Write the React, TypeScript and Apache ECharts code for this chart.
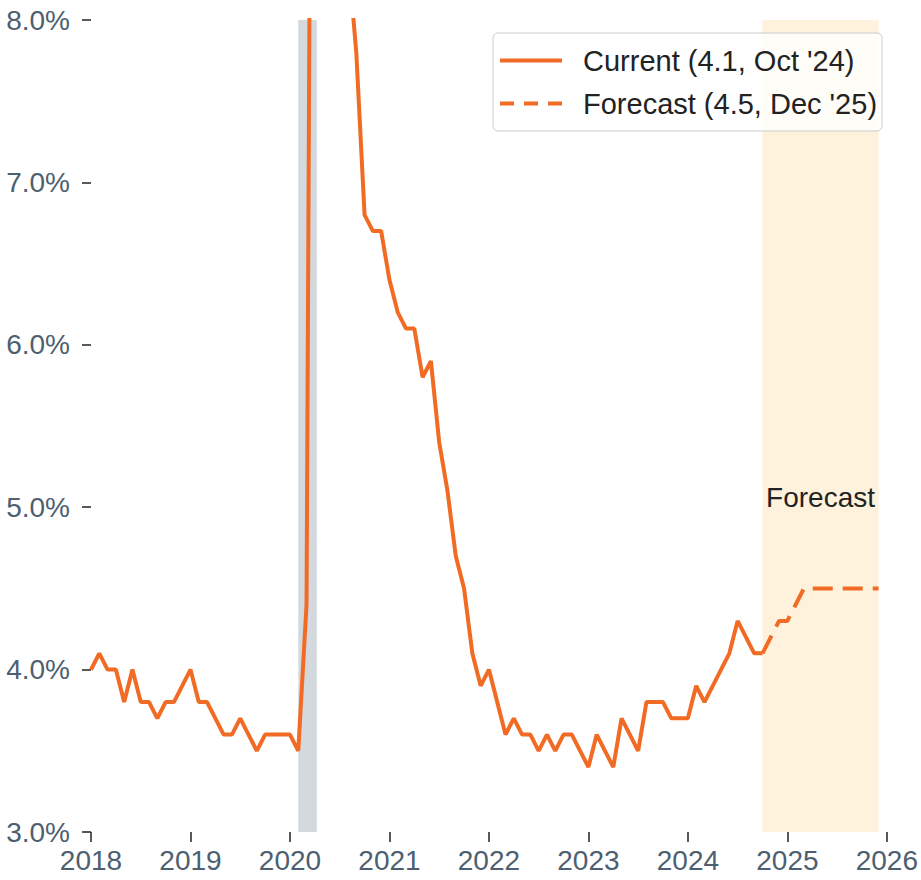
import React, { useEffect, useRef } from "react";
import * as echarts from "echarts";

// ---- data ----
const actualStart = "2018-01";
const actualRates = [
  // 2018
  4.0, 4.1, 4.0, 4.0, 3.8, 4.0, 3.8, 3.8, 3.7, 3.8, 3.8, 3.9,
  // 2019
  4.0, 3.8, 3.8, 3.7, 3.6, 3.6, 3.7, 3.6, 3.5, 3.6, 3.6, 3.6,
  // 2020
  3.6, 3.5, 4.4, 14.8, 13.2, 11.0, 10.2, 8.4, 7.8, 6.8, 6.7, 6.7,
  // 2021
  6.4, 6.2, 6.1, 6.1, 5.8, 5.9, 5.4, 5.1, 4.7, 4.5, 4.1, 3.9,
  // 2022
  4.0, 3.8, 3.6, 3.7, 3.6, 3.6, 3.5, 3.6, 3.5, 3.6, 3.6, 3.5,
  // 2023
  3.4, 3.6, 3.5, 3.4, 3.7, 3.6, 3.5, 3.8, 3.8, 3.8, 3.7, 3.7,
  // 2024
  3.7, 3.9, 3.8, 3.9, 4.0, 4.1, 4.3, 4.2, 4.1, 4.1,
];
const forecastStart = "2024-10";
const forecastRates = [4.1, 4.2, 4.3, 4.3, 4.4, 4.5, 4.5, 4.5, 4.5, 4.5, 4.5, 4.5, 4.5, 4.5, 4.5];
const recessionPeriod = ["2020-02", "2020-04"];
const currentLabel = "Current (4.1, Oct '24)";
const forecastLabel = "Forecast (4.5, Dec '25)";
const forecastText = "Forecast";
const forecastTextLevel = 5.0;
const xRange = [2018, 2026];
const yRange = [3, 8];

// ---- helpers ----
const monthToX = (ym: string) => {
  const [y, m] = ym.split("-").map(Number);
  return y + (m - 1) / 12;
};
const toSeries = (start: string, vals: number[]) => {
  const x0 = monthToX(start);
  return vals.map((v, i) => [x0 + i / 12, v]);
};

const ORANGE = "#f26b24";
const FONT = "'Liberation Sans', Arial, sans-serif";
const TICK_LABEL = "#4d5f70";
const SOLID_ICON = "path://M0,0H62V4H0Z";
const DASH_ICON = "path://M0,0H14V4H0Z M24,0H38V4H24Z M48,0H62V4H48Z";

export default function App() {
  const ref = useRef<HTMLDivElement>(null);
  useEffect(() => {
    document.body.style.margin = "0";
    if (!ref.current) return;
    const chart = echarts.init(ref.current, null, { renderer: "svg" });
    const actual = toSeries(actualStart, actualRates);
    const forecast = toSeries(forecastStart, forecastRates);
    const fStart = forecast[0][0];
    const fEnd = forecast[forecast.length - 1][0];
    chart.setOption({
      animation: false,
      textStyle: { fontFamily: FONT },
      grid: { left: 91, right: 31, top: 20, bottom: 48 },
      xAxis: {
        type: "value",
        min: xRange[0],
        max: xRange[1],
        interval: 1,
        axisLine: { show: false },
        splitLine: { show: false },
        axisTick: { show: true, length: 10, lineStyle: { color: "#222", width: 1.5 } },
        axisLabel: {
          color: TICK_LABEL,
          fontSize: 28,
          fontFamily: FONT,
          margin: 14,
          formatter: (v: number) => String(v),
        },
      },
      yAxis: {
        type: "value",
        min: yRange[0],
        max: yRange[1],
        interval: 1,
        axisLine: { show: false },
        splitLine: { show: false },
        axisTick: { show: true, length: 9, lineStyle: { color: "#222", width: 1.5 } },
        axisLabel: {
          color: TICK_LABEL,
          fontSize: 28,
          fontFamily: FONT,
          margin: 21,
          formatter: (v: number) => v.toFixed(1) + "%",
        },
      },
      legend: {
        data: [
          { name: currentLabel, icon: SOLID_ICON },
          { name: forecastLabel, icon: DASH_ICON },
        ],
        orient: "vertical",
        left: 493,
        top: 33,
        padding: [13, 5, 13, 7],
        itemWidth: 62,
        itemHeight: 4,
        itemGap: 14,
        symbolKeepAspect: false,
        backgroundColor: "rgba(255,255,255,0.8)",
        borderColor: "#cccccc",
        borderWidth: 1,
        borderRadius: 5,
        textStyle: { color: "#222", fontSize: 29, fontFamily: FONT, padding: [0, 0, 0, 16] },
      },
      series: [
        {
          name: "bands",
          type: "line",
          data: [],
          z: 1,
          markArea: {
            silent: true,
            data: [
              [
                { xAxis: monthToX(recessionPeriod[0]), itemStyle: { color: "#d4d9de" } },
                { xAxis: monthToX(recessionPeriod[1]) + 0.02 },
              ],
              [
                { xAxis: fStart, itemStyle: { color: "#fef2dc" } },
                { xAxis: fEnd },
              ],
            ],
          },
        },
        {
          name: currentLabel,
          type: "line",
          data: actual,
          z: 3,
          symbol: "none",
          showSymbol: false,
          clip: true,
          lineStyle: { color: ORANGE, width: 4 },
          itemStyle: { color: ORANGE },
        },
        {
          name: forecastLabel,
          type: "line",
          data: forecast,
          z: 3,
          symbol: "none",
          showSymbol: false,
          clip: true,
          lineStyle: { color: ORANGE, width: 4, type: [20, 10] },
          itemStyle: { color: ORANGE },
          markPoint: {
            silent: true,
            symbol: "circle",
            symbolSize: 0,
            data: [{ coord: [(fStart + fEnd) / 2, forecastTextLevel] }],
            label: {
              show: true,
              position: "top",
              distance: 0,
              formatter: forecastText,
              color: "#222",
              fontSize: 28,
              fontFamily: FONT,
              offset: [0, 4],
            },
          },
        },
      ],
    });
    return () => chart.dispose();
  }, []);
  return <div ref={ref} style={{ width: 921, height: 880 }} />;
}
